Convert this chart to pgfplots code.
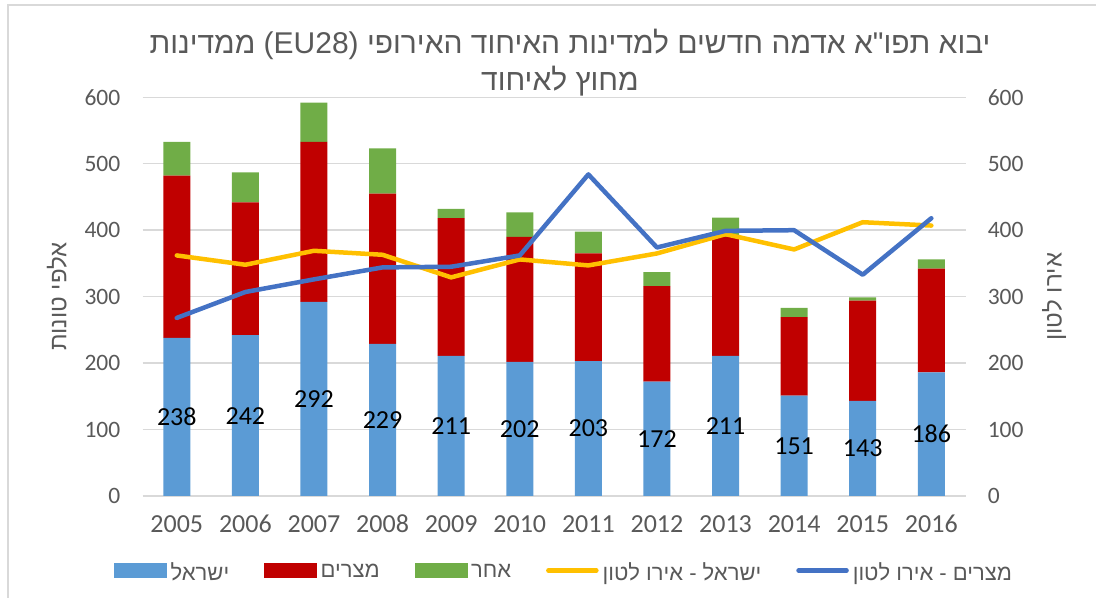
\documentclass[border=0pt]{standalone}
\usepackage{pgfplots}
\pgfplotsset{compat=1.18}
\usepackage{pgfplotstable}
\usepackage{fontspec}
\setmainfont{Carlito}
\newfontfamily\heb[Script=Hebrew,Ligatures=TeXOff]{Liberation Sans}
\TeXXeTstate=1
\definecolor{isrblue}{HTML}{5B9BD5}
\definecolor{egyred}{HTML}{C00000}
\definecolor{othgreen}{HTML}{70AD47}
\definecolor{yel}{HTML}{FFC000}
\definecolor{lineblue}{HTML}{4472C4}
\definecolor{txtgray}{HTML}{595959}
\definecolor{gridgray}{HTML}{D9D9D9}

\pgfplotstableread{
x year isr egy oth yisr yegy
0 2005 238 244 51 362 268
1 2006 242 200 45 348 307
2 2007 292 241 59 369 326
3 2008 229 226 68 363 344
4 2009 211 207 14 329 345
5 2010 202 188 37 356 362
6 2011 203 162 33 347 484
7 2012 172 144 21 365 374
8 2013 211 179 29 394 399
9 2014 151 118 14 371 400
10 2015 143 151 5 412 333
11 2016 186 156 14 407 418
}\datatable

\begin{document}
\begin{tikzpicture}[x=1bp,y=1bp]
\useasboundingbox (0,0) rectangle (1096,598);
\draw[gridgray, line width=1.5bp] (8,-10) rectangle (1120,593);
\node[text=txtgray, align=center, font={\heb\fontsize{30bp}{37bp}\selectfont}] at (570,535)
  {\beginR יבוא תפו"א אדמה חדשים למדינות האיחוד האירופי \beginL(EU28)\endL{} ממדינות\endR\\
   \beginR מחוץ לאיחוד\endR\hspace*{20bp}};

\begin{axis}[
  at={(142.5bp,102bp)}, anchor=south west,
  scale only axis, width=823.1bp, height=398.7bp,
  ybar stacked, bar width=27bp,
  xmin=-0.5, xmax=11.5, ymin=0, ymax=600,
  xtick=data, xticklabels={2005,2006,2007,2008,2009,2010,2011,2012,2013,2014,2015,2016},
  ytick={0,100,...,600},
  major tick length=0pt,
  axis line style={draw=none},
  ymajorgrids, grid style={gridgray, line width=1.5bp},
  /pgf/number format/assume math mode=true,
  xticklabel style={font=\fontsize{26bp}{30bp}\selectfont, text=txtgray, inner sep=0pt, yshift=-19bp},
  yticklabel style={font=\fontsize{23.5bp}{28bp}\selectfont, text=txtgray, inner sep=0pt, xshift=-22bp},
  ylabel={\heb\beginR אלפי טונות\endR},
  ylabel style={at={(axis description cs:-0.1039,0.5)}, anchor=center, rotate=0, font=\fontsize{24bp}{28bp}\selectfont, text=txtgray},
  clip=false,
]
\addplot[fill=isrblue, draw=none] table[x=x, y=isr] {\datatable};
\addplot[fill=egyred, draw=none] table[x=x, y=egy] {\datatable};
\addplot[fill=othgreen, draw=none] table[x=x, y=oth] {\datatable};
\end{axis}

\begin{axis}[
  at={(142.5bp,102bp)}, anchor=south west,
  scale only axis, width=823.1bp, height=398.7bp,
  xmin=-0.5, xmax=11.5, ymin=0, ymax=600,
  axis x line=none, axis y line*=right,
  ytick={0,100,...,600},
  major tick length=0pt,
  axis line style={draw=none},
  /pgf/number format/assume math mode=true,
  yticklabel style={font=\fontsize{23.5bp}{28bp}\selectfont, text=txtgray, inner sep=0pt, xshift=22bp},
  ylabel={\heb\beginR אירו לטון\endR},
  ylabel style={at={(axis description cs:1.1074,0.5)}, anchor=center, rotate=0, font=\fontsize{24bp}{28bp}\selectfont, text=txtgray},
  clip=false,
  legend columns=5,
  legend style={at={(axis description cs:0.511,-0.1906)}, anchor=center, draw=none, fill=none, inner sep=0pt,
    column sep=0pt,
    /tikz/every odd column/.append style={column sep=4bp},
    /tikz/every even column/.append style={column sep=35bp},
    nodes={inner sep=0pt, text=txtgray, font={\heb\fontsize{22bp}{26bp}\selectfont}}},
]
\addlegendimage{legend image code/.code={\fill[isrblue] (0bp,-5.5bp) rectangle (52bp,8.5bp);}}
\addlegendentry{\beginR ישראל\endR}
\addlegendimage{legend image code/.code={\fill[egyred] (0bp,-5.5bp) rectangle (52bp,8.5bp);}}
\addlegendentry{\beginR מצרים\endR}
\addlegendimage{legend image code/.code={\fill[othgreen] (0bp,-5.5bp) rectangle (52bp,8.5bp);}}
\addlegendentry{\beginR אחר\endR}
\addplot[yel, line width=4.5bp, line join=round, line cap=round, mark=none,
  legend image code/.code={\draw[yel, line width=4.5bp, line cap=round] (2bp,1.5bp) -- (50bp,1.5bp);}]
  table[x=x, y=yisr] {\datatable};
\addlegendentry{\beginR ישראל - אירו לטון\endR}
\addplot[lineblue, line width=4.5bp, line join=round, line cap=round, mark=none,
  legend image code/.code={\draw[lineblue, line width=4.5bp, line cap=round] (2bp,1.5bp) -- (50bp,1.5bp);}]
  table[x=x, y=yegy] {\datatable};
\addlegendentry{\beginR מצרים - אירו לטון\endR}
\addplot[forget plot, draw=none, mark=none, nodes near coords, point meta=explicit,
  every node near coord/.append style={anchor=center, text=black, font=\fontsize{26bp}{30bp}\selectfont}]
  table[x=x, y expr=\thisrow{isr}/2, meta=isr] {\datatable};
\end{axis}
\end{tikzpicture}
\end{document}
